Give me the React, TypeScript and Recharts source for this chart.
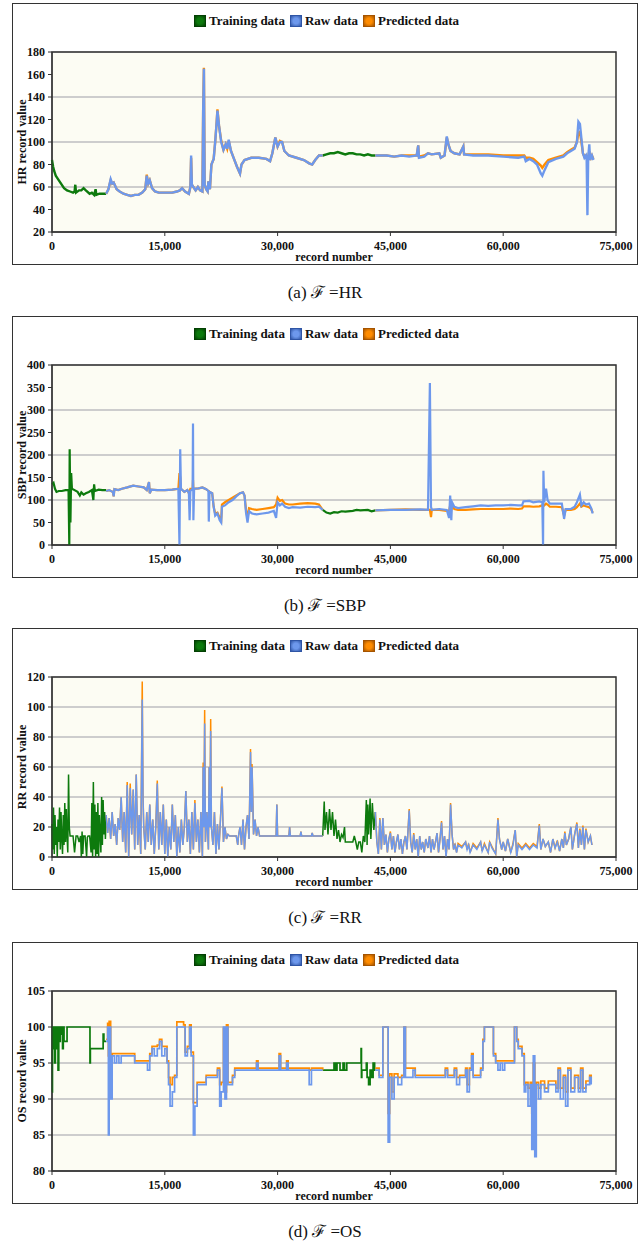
import { CartesianGrid, Legend, Line, LineChart, ReferenceArea, XAxis, YAxis } from "recharts";

const FONT = '"Liberation Serif", "Times New Roman", serif';
const GREEN = "#0d7a0d";
const BLUE = "#6d98ec";
const ORANGE = "#ff8c00";

type Pt = [number, number | null];
type Rec = [number, number | null, number | null];

const xTicks = [0, 15000, 30000, 45000, 60000, 75000];
const hrTicks = [20, 40, 60, 80, 100, 120, 140, 160, 180];
const sbpTicks = [0, 50, 100, 150, 200, 250, 300, 350, 400];
const rrTicks = [0, 20, 40, 60, 80, 100, 120];
const osTicks = [80, 85, 90, 95, 100, 105];

// training segments: [record, value]
const hrTraining: Pt[] = [
  [0, 84], [150, 78], [300, 74], [500, 70], [800, 67], [1200, 63], [1600, 59], [2000, 57], [2400, 56],
  [2800, 55], [3000, 56], [3100, 62], [3200, 55], [3600, 57], [3900, 57], [4200, 59], [4500, 57],
  [5000, 54], [5300, 55], [5600, 53], [5800, 58], [5900, 53], [6300, 54], [6800, 54], [7200, 54],
  [7300, null],
  [36000, 88], [36500, 89], [37000, 90], [37500, 90], [38000, 91], [38500, 90], [39000, 89], [39500, 90],
  [40000, 90], [40500, 89], [41000, 89], [41500, 88], [42000, 89], [42500, 88], [43000, 88],
];

// [record, raw, predicted]
const hrRecords: Rec[] = [
  [7200, 54, 54], [7500, 58, 58], [7800, 67, 66], [8000, 63, 63], [8200, 64, 64], [8600, 58, 58],
  [9000, 56, 56], [9500, 54, 54], [10000, 53, 53], [10500, 52, 52], [11000, 53, 53], [11500, 53, 53],
  [12000, 55, 55], [12400, 58, 58], [12600, 70, 71], [12800, 63, 63], [13000, 66, 66], [13300, 59, 59],
  [13700, 56, 56], [14200, 55, 55], [15000, 55, 55], [16000, 55, 55], [16600, 56, 56], [17000, 57, 57],
  [17300, 59, 59], [17700, 56, 56], [18200, 54, 54], [18400, 60, 60], [18500, 88, 86], [18600, 62, 62],
  [18800, 60, 60], [19100, 57, 57], [19400, 60, 60], [19700, 57, 57], [20000, 56, 56], [20100, 127, 127],
  [20200, 165, 166], [20300, 62, 62], [20500, 58, 58], [20700, 56, 56], [20800, 65, 65], [21000, 58, 58],
  [21200, 80, 80], [21500, 85, 85], [21700, 100, 100], [21900, 118, 118], [22000, 128, 129],
  [22200, 115, 115], [22500, 100, 101], [22800, 93, 93], [23100, 98, 98], [23300, 94, 94],
  [23500, 102, 101], [23800, 92, 92], [24200, 85, 85], [24600, 78, 78], [25000, 72, 72], [25200, 80, 80],
  [25600, 84, 84], [26500, 86, 86], [27500, 86, 86], [28500, 85, 85], [29000, 83, 83], [29300, 90, 90],
  [29700, 104, 104], [30000, 96, 96], [30300, 100, 101], [30600, 100, 100], [30900, 92, 92],
  [31500, 88, 88], [32500, 86, 86], [33500, 84, 84], [34200, 81, 81], [34600, 80, 80], [35000, 84, 84],
  [35500, 88, 88], [36000, 88, 88], [36100, null, null],
  [43000, 88, 88], [44500, 88, 88], [45500, 87, 87], [46500, 88, 88], [47500, 87, 88], [48500, 88, 88],
  [48700, 97, 97], [48800, 86, 87], [49500, 87, 88], [50000, 90, 90], [50500, 89, 89], [51500, 90, 90],
  [51700, 86, 86], [52200, 88, 88], [52500, 105, 104], [52700, 98, 98], [53000, 92, 92], [53500, 90, 90],
  [54200, 89, 89], [54700, 96, 96], [54800, 89, 89], [56000, 88, 89], [58000, 88, 89], [60000, 87, 88],
  [62000, 86, 88], [62800, 87, 88], [63000, 83, 86], [63500, 85, 86], [64000, 83, 85], [64500, 80, 82],
  [65000, 72, 79], [65200, 70, 77], [65500, 75, 80], [66000, 82, 84], [67000, 85, 86], [68000, 87, 88],
  [68500, 90, 91], [69000, 92, 93], [69500, 94, 95], [69800, 100, 100], [70000, 118, 108],
  [70200, 116, 109], [70400, 103, 100], [70600, 90, 90], [70800, 86, 87], [71000, 88, 88],
  [71100, 84, 86], [71200, 35, 85], [71300, 86, 86], [71450, 98, 92], [71550, 84, 84], [71800, 88, 88],
  [72000, 84, 85],
];

const sbpTraining: Pt[] = [
  [0, 135], [200, 138], [400, 125], [600, 118], [900, 120], [1300, 120], [1800, 122], [2200, 122],
  [2300, 0], [2350, 213], [2450, 50], [2550, 160], [2650, 125], [3000, 122], [3400, 118], [3700, 110],
  [3900, 117], [4200, 112], [4500, 115], [4900, 118], [5300, 122], [5500, 100], [5600, 135], [5700, 120],
  [6200, 123], [6700, 122], [7200, 122],
  [7300, null],
  [36000, 78], [36500, 72], [37000, 70], [37500, 73], [38000, 72], [38500, 75], [39000, 74], [40000, 76],
  [40500, 78], [41000, 77], [42000, 78], [42500, 75], [43000, 77],
];

const sbpRecords: Rec[] = [
  [7200, 120, 120], [7600, 122, 122], [8100, 118, 118], [8200, 108, 108], [8300, 124, 124],
  [8800, 122, 122], [9300, 125, 125], [10000, 128, 128], [10800, 132, 132], [11500, 130, 130],
  [12200, 128, 128], [12600, 122, 122], [12900, 140, 140], [13000, 115, 115], [13200, 123, 123],
  [14000, 122, 122], [15000, 122, 122], [16000, 123, 123], [16800, 125, 125], [16950, 0, 160],
  [17050, 213, 150], [17150, 125, 125], [17600, 118, 118], [18000, 122, 122], [18200, 115, 115],
  [18300, 55, 118], [18400, 120, 125], [18700, 125, 125], [18750, 270, 145], [18800, 55, 125],
  [18900, 125, 125], [19500, 126, 126], [20000, 128, 128], [20500, 124, 124], [20800, 120, 120],
  [20850, 52, 120], [20950, 118, 118], [21300, 115, 115], [21500, 85, 85], [21700, 65, 70],
  [22000, 70, 72], [22300, 55, 60], [22500, 50, 55], [22600, 85, 90], [23000, 88, 95], [23500, 95, 100],
  [24000, 100, 105], [24500, 108, 110], [25000, 115, 115], [25400, 117, 117], [25600, 110, 110],
  [25800, 72, 78], [26000, 50, 60], [26200, 75, 82], [26600, 70, 80], [27200, 68, 78], [28000, 70, 80],
  [28800, 72, 82], [29500, 76, 84], [29800, 60, 90], [30000, 95, 105], [30300, 88, 98], [30600, 92, 100],
  [31000, 85, 92], [31500, 82, 90], [32000, 84, 90], [33000, 83, 92], [34000, 85, 93], [35000, 84, 92],
  [35500, 85, 90], [36000, 78, 78], [36100, null, null],
  [43000, 77, 77], [45000, 78, 78], [47000, 78, 79], [49000, 79, 78], [50000, 78, 78], [50250, 360, 78],
  [50400, 85, 62], [50500, 78, 78], [51500, 80, 78], [52500, 78, 76], [52800, 60, 75], [52950, 110, 88],
  [53100, 55, 78], [53200, 95, 85], [53500, 85, 80], [54000, 82, 78], [55000, 84, 78], [56000, 86, 79],
  [57000, 88, 80], [58000, 87, 80], [59000, 88, 80], [60000, 88, 80], [61000, 89, 81], [62000, 88, 80],
  [62500, 88, 81], [62700, 97, 86], [63500, 98, 86], [64000, 95, 85], [64800, 97, 86], [65200, 95, 88],
  [65300, 0, 88], [65350, 165, 90], [65450, 95, 88], [65700, 125, 92], [65900, 100, 90], [66200, 92, 85],
  [67000, 92, 85], [67800, 92, 84], [68100, 58, 65], [68300, 80, 78], [69000, 80, 78], [69500, 85, 80],
  [69800, 95, 84], [70200, 112, 92], [70400, 88, 85], [70700, 95, 88], [71000, 90, 86], [71400, 92, 84],
  [71700, 82, 80], [71900, 70, 72],
];

const rrTraining: Pt[] = [
  [0, 22], [100, 5], [200, 33], [300, 2], [400, 28], [500, 8], [600, 20], [700, 0], [800, 25], [900, 10],
  [1000, 33], [1100, 5], [1200, 30], [1300, 12], [1400, 2], [1500, 28], [1600, 8], [1700, 36], [1800, 10],
  [1900, 32], [2000, 14], [2100, 3], [2200, 55], [2300, 20], [2400, 14], [2600, 14], [2800, 14], [3000, 3],
  [3200, 14], [3400, 14], [3600, 10], [3800, 14], [3900, 0], [4000, 17], [4100, 2], [4200, 14], [4400, 14],
  [4600, 0], [4700, 13], [4800, 14], [5000, 14], [5200, 3], [5300, 36], [5400, 0], [5500, 50], [5600, 5],
  [5700, 35], [5800, 0], [5900, 30], [6000, 2], [6100, 36], [6200, 0], [6300, 28], [6500, 3], [6600, 40],
  [6700, 8], [6800, 38], [6900, 15], [7000, 30], [7100, 12], [7200, 28],
  [7300, null],
  [36000, 14], [36200, 37], [36300, 18], [36500, 30], [36700, 15], [36900, 32], [37100, 18], [37300, 30],
  [37500, 14], [37700, 25], [37900, 12], [38100, 18], [38300, 10], [38500, 15], [38700, 13], [38900, 20],
  [39000, 10], [39500, 10], [40000, 10], [40200, 14], [40400, 10], [40600, 5], [40800, 10], [41000, 10],
  [41200, 3], [41400, 14], [41600, 10], [41800, 38], [41900, 8], [42000, 35], [42100, 15], [42300, 39],
  [42400, 12], [42600, 36], [42800, 18], [43000, 30],
];

const rrRecords: Rec[] = [
  [7200, 28, 28], [7400, 16, 16], [7600, 26, 26], [7800, 12, 12], [8000, 30, 30], [8200, 14, 14],
  [8400, 22, 22], [8600, 8, 8], [8800, 26, 26], [9000, 18, 18], [9200, 40, 40], [9400, 10, 10],
  [9600, 30, 30], [9800, 3, 3], [10000, 48, 50], [10200, 0, 0], [10400, 46, 49], [10600, 15, 15],
  [10800, 45, 45], [11000, 5, 5], [11200, 55, 55], [11400, 8, 8], [11600, 28, 28], [11800, 2, 2],
  [12000, 105, 117], [12100, 40, 42], [12200, 20, 20], [12400, 5, 5], [12600, 30, 30], [12800, 10, 10],
  [13000, 35, 35], [13200, 8, 8], [13400, 25, 25], [13600, 2, 2], [13800, 20, 20], [14000, 49, 51],
  [14200, 5, 5], [14400, 30, 30], [14600, 8, 8], [14800, 35, 35], [15000, 2, 2], [15200, 25, 25],
  [15400, 0, 0], [15600, 20, 20], [15800, 5, 5], [16000, 35, 35], [16200, 10, 10], [16400, 28, 28],
  [16600, 0, 0], [16800, 20, 20], [17000, 3, 3], [17200, 25, 25], [17400, 8, 8], [17600, 20, 20],
  [17800, 44, 44], [18000, 10, 10], [18200, 25, 25], [18400, 2, 2], [18600, 30, 30], [18800, 5, 5],
  [19000, 36, 38], [19200, 10, 10], [19400, 25, 25], [19600, 3, 3], [19800, 30, 30], [20000, 0, 0],
  [20100, 60, 63], [20200, 20, 20], [20300, 89, 98], [20400, 10, 10], [20600, 30, 30], [20800, 5, 5],
  [20900, 60, 60], [21000, 20, 20], [21100, 84, 92], [21200, 20, 20], [21400, 8, 8], [21600, 30, 30],
  [21800, 2, 2], [22000, 22, 22], [22200, 5, 5], [22400, 25, 25], [22600, 46, 47], [22800, 10, 10],
  [23000, 20, 20], [23200, 12, 12], [23400, 15, 15], [23600, 14, 14], [24500, 14, 14], [24700, 8, 8],
  [24800, 14, 14], [25000, 20, 20], [25200, 8, 8], [25400, 25, 25], [25600, 5, 5], [25800, 20, 20],
  [26000, 28, 28], [26200, 12, 12], [26400, 70, 72], [26500, 30, 30], [26600, 60, 62], [26800, 15, 15],
  [27000, 25, 25], [27200, 14, 14], [27400, 20, 20], [27600, 14, 14], [29800, 14, 14], [29900, 35, 35],
  [30000, 14, 14], [31500, 14, 14], [31600, 20, 20], [31700, 14, 14], [33000, 14, 14], [33100, 17, 17],
  [33200, 14, 14], [34500, 14, 14], [34600, 16, 16], [34700, 14, 14], [36000, 14, 14], [36100, null, null],
  [43000, 30, 30], [43200, 10, 10], [43400, 2, 2], [43600, 25, 26], [43800, 5, 5], [44000, 26, 26],
  [44200, 8, 8], [44400, 15, 15], [44600, 3, 3], [44800, 12, 12], [45000, 16, 17], [45200, 5, 5],
  [45400, 14, 14], [45600, 3, 3], [45800, 10, 10], [46000, 15, 15], [46200, 5, 5], [46400, 12, 12],
  [46600, 2, 2], [46800, 10, 10], [47000, 14, 14], [47200, 5, 5], [47500, 31, 32], [47700, 10, 10],
  [47900, 3, 3], [48100, 15, 16], [48300, 5, 5], [48500, 12, 12], [48700, 0, 0], [48900, 14, 14],
  [49100, 5, 5], [49300, 10, 10], [49500, 3, 3], [49700, 12, 12], [50000, 6, 6], [50200, 14, 14],
  [50400, 3, 3], [50600, 12, 12], [50800, 5, 5], [51000, 10, 10], [51200, 16, 16], [51400, 3, 3],
  [51600, 12, 12], [51800, 23, 24], [52000, 5, 5], [52200, 14, 14], [52400, 0, 0], [52600, 12, 12],
  [52800, 5, 5], [53000, 35, 36], [53200, 15, 15], [53400, 5, 5], [53600, 8, 9], [53800, 3, 3],
  [54000, 8, 9], [54500, 6, 7], [55000, 10, 10], [55200, 5, 5], [55400, 8, 9], [55600, 3, 3],
  [56000, 8, 9], [56500, 5, 6], [57000, 10, 10], [57200, 4, 4], [57500, 8, 9], [58000, 3, 3],
  [58200, 10, 10], [58500, 6, 7], [59000, 2, 2], [59300, 25, 26], [59500, 12, 12], [59800, 5, 5],
  [60000, 10, 10], [60300, 4, 4], [60600, 12, 12], [61000, 3, 3], [61300, 8, 9], [61600, 18, 18],
  [61800, 0, 0], [62000, 8, 9], [62500, 5, 6], [63000, 8, 9], [63500, 5, 6], [64000, 8, 9],
  [64500, 6, 7], [64800, 21, 22], [65000, 5, 5], [65300, 12, 12], [65600, 7, 7], [66000, 10, 10],
  [66300, 3, 3], [66600, 12, 12], [66900, 6, 6], [67200, 10, 11], [67500, 4, 4], [67800, 12, 12],
  [68000, 6, 6], [68200, 16, 17], [68400, 8, 8], [68700, 12, 12], [69000, 20, 20], [69200, 5, 5],
  [69500, 15, 15], [69800, 22, 23], [70000, 6, 6], [70200, 18, 19], [70400, 8, 8], [70600, 20, 21],
  [70800, 5, 5], [71000, 18, 19], [71300, 10, 10], [71600, 14, 14], [71800, 8, 8],
];

const osTraining: Pt[] = [
  [0, 91], [60, 100], [150, 97], [250, 100], [350, 95], [450, 100], [550, 97], [650, 100], [800, 94],
  [900, 100], [1000, 98], [1100, 100], [1300, 99], [1400, 97], [1500, 100], [1600, 98], [1900, 98],
  [2000, 100], [5000, 100], [5050, 95], [5100, 97], [6700, 97], [6800, 99], [6900, 98], [7200, 98],
  [7300, null],
  [36000, 94], [37400, 94], [37500, 95], [37700, 94], [37900, 95], [38300, 94], [38700, 95], [38900, 94],
  [39200, 95], [41000, 95], [41100, 97], [41150, 93], [41200, 94], [41800, 95], [41900, 93], [42100, 92],
  [42300, 94], [42500, 93], [42700, 95], [42900, 94], [43000, 94],
];

const osRecords: Rec[] = [
  [7200, 98, 98.3], [7400, 100, 100.5], [7500, 85, 96], [7600, 100, 100.8], [7800, 90, 96],
  [8000, 96, 96.3], [8300, 95, 96.3], [8600, 96, 96.3], [8900, 95, 96.3], [9200, 96, 96.3],
  [10500, 96, 96.3], [11000, 95, 95.3], [12500, 95, 95.3], [12700, 94, 95.3], [13000, 96, 96.3],
  [13300, 97, 97.3], [13600, 96, 97.3], [14000, 97, 97.5], [14300, 98, 98.3], [14600, 96, 97.3],
  [15000, 97, 97.3], [15300, 95, 95.3], [15500, 92, 93], [15700, 89, 92], [16000, 91, 93],
  [16300, 93, 93.3], [16600, 100, 100.7], [17500, 100, 100.3], [17700, 96, 96.5], [18000, 97, 97.3],
  [18300, 100, 100.3], [18500, 96, 96.5], [18800, 85, 89.5], [19000, 89, 89.5], [19300, 92, 92.3],
  [20500, 93, 93.3], [21800, 93, 93.3], [22000, 94, 94.3], [22300, 89, 92], [22500, 91, 92.3],
  [22800, 100, 99.8], [23000, 90, 91], [23200, 100, 100.3], [23400, 92, 92.3], [24000, 93, 93.3],
  [24300, 94, 94.3], [27000, 94, 94.3], [27200, 95, 95.3], [27400, 94, 94.3], [30000, 94, 94.3],
  [30200, 96, 96.3], [30400, 94, 94.3], [31000, 94, 94.3], [31200, 95, 95.3], [31400, 94, 94.3],
  [34000, 94, 94.3], [34200, 92, 94], [34500, 94, 94.3], [36000, 94, 94], [36100, null, null],
  [43000, 94, 94.3], [43500, 93, 93.3], [44000, 100, 100], [44500, 100, 100], [44700, 84, 88],
  [44900, 93, 93.5], [45200, 90, 91], [45500, 93, 93.5], [46000, 92, 93], [46500, 93, 93.3],
  [46800, 100, 100], [47000, 93, 94.3], [48000, 94, 94.3], [48300, 93, 93.3], [52000, 93, 93.3],
  [52300, 94, 94.3], [52600, 93, 93.3], [53500, 94, 94.3], [53800, 92, 93], [54200, 93, 93.3],
  [55000, 94, 94.3], [55200, 91, 92], [55500, 94, 94.3], [55800, 96, 96.3], [56000, 93, 93.3],
  [57000, 94, 94.3], [57300, 98, 98.3], [57500, 100, 100], [58500, 100, 100], [58700, 96, 96.3],
  [59000, 95, 95.3], [59300, 94, 95.3], [59600, 95, 95.3], [59900, 94, 95.3], [60200, 95, 95.3],
  [61000, 95, 95.3], [61500, 100, 100], [61800, 98, 98.3], [62000, 97, 97.3], [62500, 96, 96.3],
  [62800, 91, 92], [63000, 92, 92.3], [63300, 89, 91.5], [63600, 92, 92.3], [63800, 83, 88],
  [64000, 96, 95], [64200, 82, 90], [64400, 92, 92.3], [64700, 90, 91.5], [65000, 92, 92.5],
  [65500, 91, 91.5], [66000, 92, 92.5], [67000, 91, 91.5], [67300, 94, 94.3], [67600, 90, 91.5],
  [68000, 93, 93.3], [68300, 89, 91], [68600, 94, 94.3], [69000, 91, 91.5], [69500, 93, 93.3],
  [70000, 91, 91.5], [70300, 94, 94.3], [70600, 91, 91.5], [71000, 92, 92.5], [71500, 93, 93.3],
  [71700, 92, 92.3],
];

const legendItems = [
  { label: "Training data", color: GREEN, edge: "#034003" },
  { label: "Raw data", color: BLUE, edge: "#2f55a5" },
  { label: "Predicted data", color: ORANGE, edge: "#a55400" },
];

const toTraining = (pts: Pt[]) => pts.map(([x, y]) => ({ x, y }));
const toRecords = (recs: Rec[]) => recs.map(([x, raw, pred]) => ({ x, raw, pred }));

function LegendBox() {
  return (
    <div
      style={{
        height: 48,
        boxSizing: "border-box",
        paddingTop: 10,
        paddingLeft: 8,
        display: "flex",
        justifyContent: "center",
        fontFamily: FONT,
        fontWeight: "bold",
        fontSize: 13,
        color: "#111",
      }}
    >
      {legendItems.map((it) => (
        <span key={it.label} style={{ display: "flex", alignItems: "center", marginRight: 5, height: 14 }}>
          <span
            style={{
              display: "inline-block",
              width: 10,
              height: 10,
              marginRight: 3,
              border: `1px solid ${it.edge}`,
              background: `radial-gradient(circle, ${it.color} 40%, ${it.edge} 100%)`,
            }}
          />
          {it.label}
        </span>
      ))}
    </div>
  );
}

const tickStyle = { fill: "#111", fontSize: 12, fontWeight: "bold", fontFamily: FONT };

function Panel({
  top,
  caption,
  yLabel,
  yTicks,
  training,
  records,
  width,
  step,
}: {
  top: number;
  caption: string;
  yLabel: string;
  yTicks: number[];
  training: Pt[];
  records: Rec[];
  width: number;
  step?: boolean;
}) {
  const lo = yTicks[0];
  const hi = yTicks[yTicks.length - 1];
  const curve = step ? "stepAfter" : "linear";
  return (
    <>
      <div
        style={{
          position: "absolute",
          left: 12,
          top,
          width: 626,
          height: 262,
          border: "1px solid #333",
          boxSizing: "border-box",
          background: "#fff",
        }}
      >
        <LineChart width={624} height={260} margin={{ top: 0, right: 21, bottom: 0, left: 0 }}>
          <CartesianGrid vertical={false} stroke="#cdcdcd" strokeWidth={2} fill="#fcfcf3" />
          <XAxis
            dataKey="x"
            type="number"
            domain={[0, 75000]}
            ticks={xTicks}
            height={32}
            tickSize={4}
            tickMargin={5}
            stroke="#333"
            tick={tickStyle}
            tickFormatter={(v: number) => v.toLocaleString("en-US")}
            label={{
              value: "record number",
              position: "insideBottom",
              offset: 3,
              style: { fill: "#111", fontSize: 12, fontWeight: "bold", fontFamily: FONT },
            }}
          />
          <YAxis
            type="number"
            domain={[lo, hi]}
            ticks={yTicks}
            width={39}
            tickSize={4}
            tickMargin={3}
            stroke="#333"
            tick={tickStyle}
            label={{
              value: yLabel,
              angle: -90,
              position: "insideLeft",
              offset: 9,
              style: { textAnchor: "middle", fill: "#111", fontSize: 12, fontWeight: "bold", fontFamily: FONT },
            }}
          />
          <Legend verticalAlign="top" align="center" height={48} wrapperStyle={{ left: 0, width: 624 }} content={() => <LegendBox />} />
          <Line
            data={toTraining(training)}
            dataKey="y"
            name="Training data"
            type={curve}
            stroke={GREEN}
            strokeWidth={width}
            dot={false}
            isAnimationActive={false}
          />
          <Line
            data={toRecords(records)}
            dataKey="pred"
            name="Predicted data"
            type={curve}
            stroke={ORANGE}
            strokeWidth={width}
            dot={false}
            isAnimationActive={false}
          />
          <Line
            data={toRecords(records)}
            dataKey="raw"
            name="Raw data"
            type={curve}
            stroke={BLUE}
            strokeWidth={width}
            dot={false}
            isAnimationActive={false}
          />
          <ReferenceArea x1={0} x2={75000} y1={lo} y2={hi} fill="none" stroke="#333" strokeWidth={1.5} />
        </LineChart>
      </div>
      <div
        style={{
          position: "absolute",
          left: 12,
          top: top + 280,
          width: 626,
          textAlign: "center",
          fontFamily: FONT,
          fontSize: 17,
          lineHeight: "20px",
          color: "#111",
        }}
      >
        {caption}
      </div>
    </>
  );
}

export default function App() {
  return (
    <div style={{ position: "absolute", left: 0, top: 0, width: 641, height: 1243, background: "#fff" }}>
      <Panel top={3} caption="(a)  ℱ =HR" yLabel="HR record value" yTicks={hrTicks} training={hrTraining} records={hrRecords} width={2.4} />
      <Panel top={316} caption="(b)  ℱ =SBP" yLabel="SBP record value" yTicks={sbpTicks} training={sbpTraining} records={sbpRecords} width={2.2} />
      <Panel top={628} caption="(c)  ℱ =RR" yLabel="RR record value" yTicks={rrTicks} training={rrTraining} records={rrRecords} width={1.5} />
      <Panel top={942} caption="(d)  ℱ =OS" yLabel="OS record value" yTicks={osTicks} training={osTraining} records={osRecords} width={1.7} step />
    </div>
  );
}
